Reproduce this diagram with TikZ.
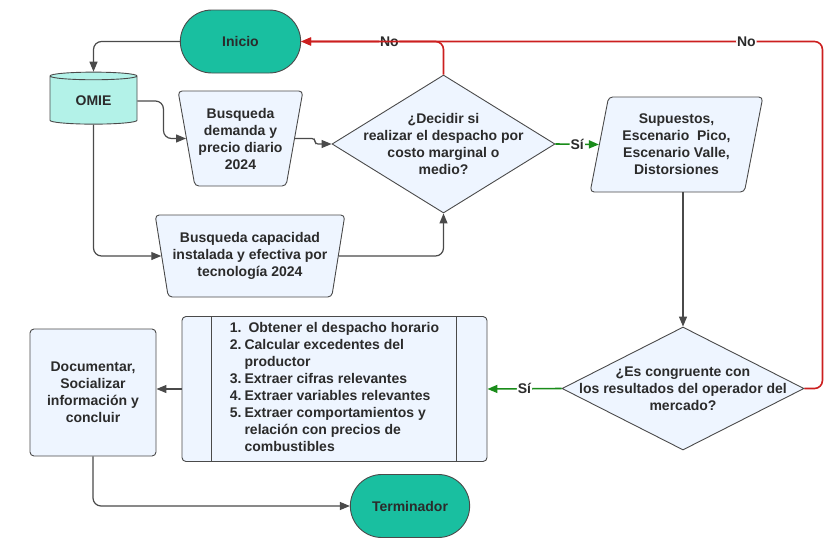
\documentclass[tikz,border=0pt]{standalone}
\usepackage{fontspec}
\setmainfont{Liberation Sans}
\usetikzlibrary{shapes.geometric,shapes.misc,arrows.meta,positioning}
\definecolor{termfill}{HTML}{19BFA0}
\definecolor{dbfill}{HTML}{B3F2E8}
\definecolor{boxfill}{HTML}{EEF5FF}
\definecolor{edge}{HTML}{4A4A4A}
\definecolor{txt}{HTML}{2B2B2B}
\definecolor{nored}{HTML}{CC1F1F}
\definecolor{sigreen}{HTML}{1A8C1A}
\tikzset{basic/.style={draw=edge,line width=0.9pt,fill=boxfill,text=txt,
                       font=\fontsize{14}{17}\selectfont\bfseries,align=center}}
\tikzset{terminal/.style={basic,rounded rectangle,fill=termfill,
                          minimum width=127pt,minimum height=63pt}}
\tikzset{database/.style={basic,cylinder,shape border rotate=90,aspect=0.18,
                          fill=dbfill,minimum width=87pt,minimum height=52pt}}
\tikzset{search/.style={basic,trapezium,trapezium angle=76,shape border rotate=180,
                        trapezium stretches=true,rounded corners=4pt,inner sep=2pt}}
\tikzset{data/.style={basic,trapezium,trapezium left angle=77,trapezium right angle=103,
                      trapezium stretches=true,rounded corners=4pt}}
\tikzset{decision/.style={basic,diamond,inner sep=0pt}}
\tikzset{process/.style={basic,rectangle,rounded corners=4pt}}
\tikzset{flow/.style={draw=edge,line width=1.2pt,rounded corners=8pt,
                      -{Triangle[length=10pt,width=8pt]}}}
\tikzset{noflow/.style={flow,draw=nored,line width=1.6pt}}
\tikzset{yesflow/.style={flow,draw=sigreen,line width=1.6pt}}
\tikzset{lbl/.style={fill=white,inner sep=1pt,text=txt,
                     font=\fontsize{14}{16}\selectfont\bfseries}}
\begin{document}
\begin{tikzpicture}[x=1pt,y=-1pt]
    \useasboundingbox (0,0) rectangle (832,546);
    % Start, data source and searches
    \node[terminal] (inicio) at (240.5,41.5) {Inicio};
    \node[database] (omie) at (93.5,101) {OMIE};
    \node[search,minimum width=125pt,minimum height=95pt] (demanda) at (240.5,138.5)
        {Busqueda\\demanda y\\precio diario\\2024};
    \node[search,minimum width=190pt,minimum height=82pt] (capacidad) at (250,256)
        {Busqueda capacidad\\instalada y efectiva por\\tecnolog\'ia 2024};
    % First decision
    \node[decision,minimum width=223pt,minimum height=138pt] (dec1) at (443.5,144) {};
    \node[font=\fontsize{14}{17}\selectfont\bfseries,text=txt,align=center] (dec1txt) at (dec1)
        {¿Decidir si\\realizar el despacho por\\costo marginal o\\medio?};
    \node[data,minimum width=173pt,minimum height=95pt] (supuestos) at (676.5,144.5)
        {Supuestos,\\Escenario\ \ Pico,\\Escenario Valle,\\Distorsiones};
    % Second decision
    \node[decision,minimum width=242pt,minimum height=123pt] (dec2) at (683,388.5) {};
    \node[font=\fontsize{14}{17}\selectfont\bfseries,text=txt,align=center] (dec2txt) at (dec2)
        {¿Es congruente con\\los resultados del operador del\\mercado?};
    % Predefined process with the list of tasks
    \node[process,minimum width=305pt,minimum height=145pt] (proceso) at (334.5,389)
        {\begin{tabular}{@{}l@{\hspace{3pt}}l@{}}
         1. & \hspace*{4pt}Obtener el despacho horario\\
         2. & Calcular excedentes del\\
            & productor\\
         3. & Extraer cifras relevantes\\
         4. & Extraer variables relevantes\\
         5. & Extraer comportamientos y\\
            & relaci\'on con precios de\\
            & combustibles
         \end{tabular}};
    \draw[draw=edge,line width=0.9pt] ([xshift=30pt]proceso.north west) -- ([xshift=30pt]proceso.south west);
    \draw[draw=edge,line width=0.9pt] ([xshift=-31pt]proceso.north east) -- ([xshift=-31pt]proceso.south east);
    \node[process,minimum width=126pt,minimum height=127pt] (documentar) at (93,392.5)
        {Documentar,\\Socializar\\informaci\'on y\\concluir};
    \node[terminal,minimum width=126pt] (terminador) at (410,506) {Terminador};
    % Connectors
    \draw[flow] (inicio.west) -| (omie.north);
    \draw[flow] (omie.east) -- ++(26,0) |- (demanda.west);
    \draw[flow,rounded corners=3pt] (demanda.east) -- ++(20,0) |- (dec1.west);
    \draw[flow] (omie.south) |- (capacidad.west);
    \draw[flow] (capacidad.east) -| (dec1.south);
    \draw[yesflow] (dec1.east) -- node[lbl] {Sí} (supuestos.west);
    \draw[noflow] (dec1.north) |- node[lbl,pos=0.69] {No} (inicio.east);
    \draw[noflow] (dec2.east) -- ++(18,0) |- node[lbl,pos=0.573] {No} (inicio.east);
    \draw[flow] (supuestos.south -| dec2.north) -- (dec2.north);
    \draw[yesflow] (dec2.west) -- node[lbl] {Sí} (proceso.east);
    \draw[flow] (proceso.west) -- (proceso.west -| documentar.east);
    \draw[flow] (documentar.south) |- (terminador.west);
\end{tikzpicture}
\end{document}
